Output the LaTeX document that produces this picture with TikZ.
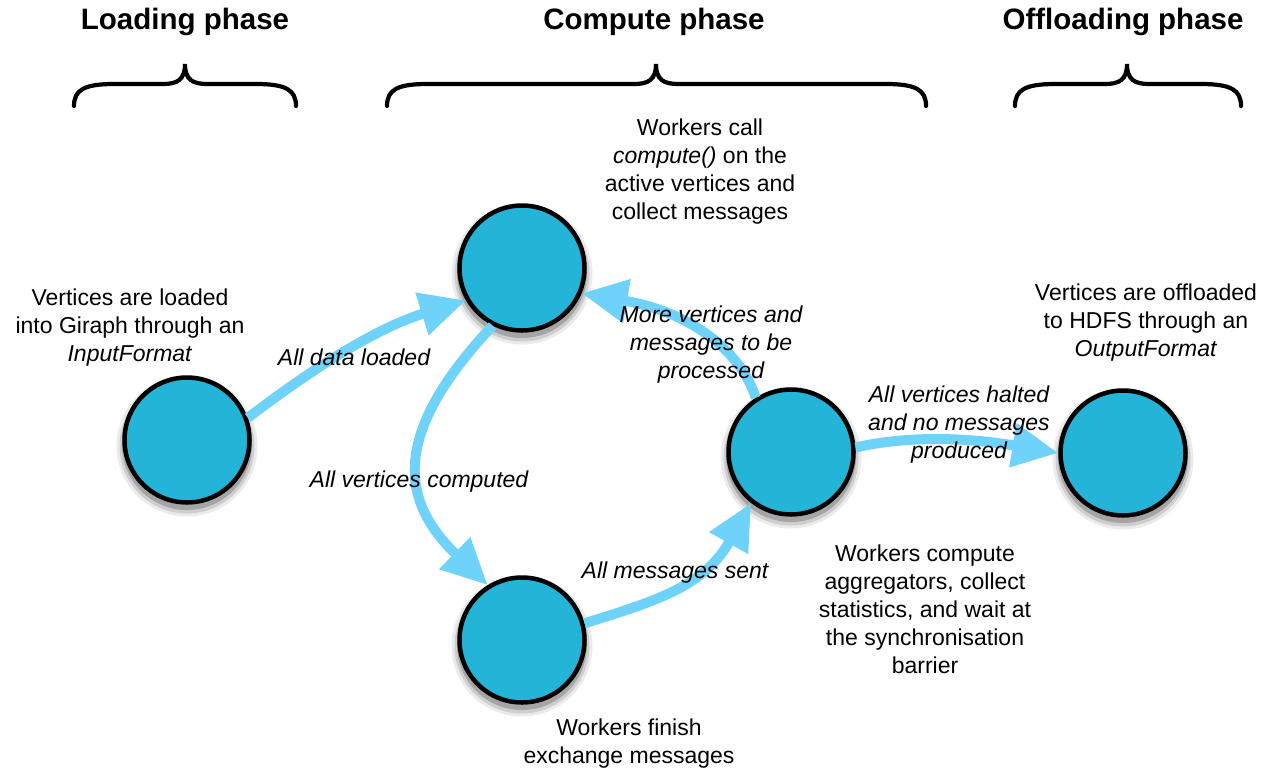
\documentclass[tikz,border=0pt]{standalone}
\usepackage{fontspec}
\setmainfont{Liberation Sans}
\usetikzlibrary{arrows.meta}
\definecolor{vfill}{RGB}{35,180,215}
\definecolor{arrowc}{RGB}{110,210,250}
\tikzset{
  state/.style={circle, draw=black, line width=4.5pt, fill=vfill, minimum size=125pt, inner sep=0pt,
    preaction={draw=black, draw opacity=.08, line width=16pt, transform canvas={yshift=-6pt}},
    preaction={draw=black, draw opacity=.12, line width=10pt, transform canvas={yshift=-6pt}},
    preaction={draw=black, draw opacity=.2, line width=5pt, transform canvas={yshift=-5pt}}},
  flow/.style={draw=arrowc, line width=10pt, -{Triangle[length=46pt,width=42pt]}},
  desc/.style={align=center, font=\fontsize{23}{28}\selectfont, inner sep=0pt},
  elabel/.style={align=center, font=\fontsize{23}{28}\selectfont\itshape, inner sep=0pt},
  phasetitle/.style={font=\fontsize{29.5}{34}\selectfont\bfseries, inner sep=0pt},
  bracestroke/.style={line width=4.2pt, line cap=round}
}
\newcommand{\phasebrace}[3]{%
  \draw[bracestroke] (#1,106) .. controls (#1,90) and ({#1+10},84) .. ({#1+40},84)
    -- ({#2-22},84) .. controls ({#2-8},84) and (#2,80) .. (#2,64)
    .. controls (#2,80) and ({#2+8},84) .. ({#2+22},84)
    -- ({#3-40},84) .. controls ({#3-10},84) and (#3,90) .. (#3,106);}
\begin{document}
\begin{tikzpicture}[x=1pt,y=-1pt]
\useasboundingbox (0,0) rectangle (1263,772);

% titles
\node[phasetitle] (h1) at (185,22) {Loading phase};
\node[phasetitle] (h2) at (654,22) {Compute phase};
\node[phasetitle] (h3) at (1123,22) {Offloading phase};

% braces
\phasebrace{74}{185}{296}
\phasebrace{387}{656}{926}
\phasebrace{1015}{1127}{1241}

% states
\node[state] (vL) at (187,440) {};
\node[state] (vT) at (522,268) {};
\node[state] (vB) at (522,640) {};
\node[state] (vR) at (791,452) {};
\node[state] (vO) at (1123,453) {};

% flows
\draw[flow] (vL.20) .. controls (300,378) and (370,330) .. (vT.210);
\draw[flow] (vT.243) .. controls (385,440) and (405,505) .. (vB.122);
\draw[flow] (vB.15) .. controls (660,600) and (705,585) .. (vR.232);
\draw[flow] (vR.123) .. controls (740,350) and (690,312) .. (vT.337);
\draw[flow] (vR.4) .. controls (910,435) and (970,438) .. (vO.180);

% descriptions
\node[desc] (tL) at (130,328) {Vertices are loaded\\into Giraph through an\\\textit{InputFormat}};
\node[desc] (tT) at (700,172) {Workers call\\\textit{compute()} on the\\active vertices and\\collect messages};
\node[desc] (tO) at (1146,323) {Vertices are offloaded\\to HDFS through an\\\textit{OutputFormat}};
\node[desc] (tR) at (925,609) {Workers compute\\aggregators, collect\\statistics, and wait at\\the synchronisation\\barrier};
\node[desc] (tB) at (629,744) {Workers finish\\exchange messages};

% edge labels
\node[elabel] (e1) at (354,357) {All data loaded};
\node[elabel] (e2) at (419,482) {All vertices computed};
\node[elabel] (e3) at (675,573) {All messages sent};
\node[elabel] (e4) at (711,345) {More vertices and\\messages to be\\processed};
\node[elabel] (e5) at (959,425) {All vertices halted\\and no messages\\produced};
\end{tikzpicture}
\end{document}
